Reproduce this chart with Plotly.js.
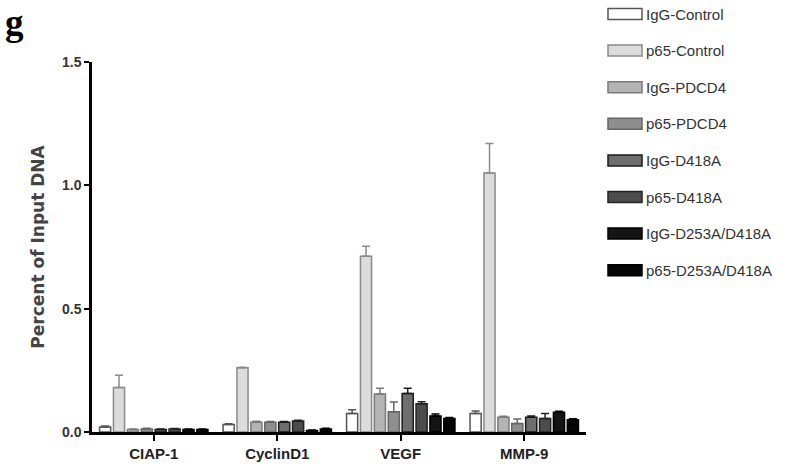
<!DOCTYPE html>
<html>
<head>
<meta charset="utf-8">
<script src="https://cdn.plot.ly/plotly-3.0.1.min.js"></script>
<style>
  body { margin: 0; background: #fff; }
  #plot { width: 786px; height: 473px; }
</style>
</head>
<body>
<div id="plot"></div>
<script>
// genes on the x axis
let genes = ["CIAP-1", "CyclinD1", "VEGF", "MMP-9"];

// one array per group: percent of input DNA for each gene
let iggControl   = [0.02, 0.03, 0.075, 0.075];
let p65Control   = [0.18, 0.26, 0.713, 1.05];
let iggPdcd4     = [0.01, 0.04, 0.154, 0.06];
let p65Pdcd4     = [0.012, 0.04, 0.082, 0.034];
let iggD418a     = [0.01, 0.04, 0.156, 0.06];
let p65D418a     = [0.012, 0.045, 0.115, 0.055];
let iggD253a     = [0.01, 0.006, 0.065, 0.08];
let p65D253a     = [0.01, 0.012, 0.055, 0.05];

// upper error (sem) for each group
let iggControlErr = [0.004, 0.003, 0.015, 0.01];
let p65ControlErr = [0.05, 0.003, 0.04, 0.12];
let iggPdcd4Err   = [0.002, 0.004, 0.023, 0.004];
let p65Pdcd4Err   = [0.003, 0.003, 0.04, 0.019];
let iggD418aErr   = [0.002, 0.003, 0.021, 0.005];
let p65D418aErr   = [0.002, 0.003, 0.008, 0.02];
let iggD253aErr   = [0.002, 0.002, 0.008, 0.004];
let p65D253aErr   = [0.002, 0.003, 0.004, 0.004];

// legend names, fills and outlines
let names = ["IgG-Control", "p65-Control", "IgG-PDCD4", "p65-PDCD4",
             "IgG-D418A", "p65-D418A", "IgG-D253A/D418A", "p65-D253A/D418A"];
let values = [iggControl, p65Control, iggPdcd4, p65Pdcd4, iggD418a, p65D418a, iggD253a, p65D253a];
let errors = [iggControlErr, p65ControlErr, iggPdcd4Err, p65Pdcd4Err,
              iggD418aErr, p65D418aErr, iggD253aErr, p65D253aErr];
let fills = ["#ffffff", "#dcdcdc", "#b4b4b4", "#8e8e8e", "#6e6e6e", "#4c4c4c", "#141414", "#050505"];
let outlines = ["#555555", "#8a8a8a", "#7a7a7a", "#666666", "#1a1a1a", "#222222", "#000000", "#000000"];

// make one trace per group
var data = [];
for (let i = 0; i < names.length; i++) {
    data.push({
        x: genes,
        y: values[i],
        type: "bar",
        name: names[i],
        marker: {color: fills[i], line: {color: outlines[i], width: 1.5}},
        error_y: {type: "data", array: errors[i], symmetric: false,
                  arrayminus: [0, 0, 0, 0], color: outlines[i], thickness: 1.5, width: 4}
    });
}

var font = "'Liberation Sans', Arial, sans-serif";

// plot area in pixels, used to place the hand made legend
var plotLeft = 92, plotRight = 586, plotTop = 62, plotBottom = 432;
function px(x) { return (x - plotLeft) / (plotRight - plotLeft); }
function py(y) { return (plotBottom - y) / (plotBottom - plotTop); }

// legend with wide swatches like the original figure
var shapes = [];
var annotations = [];
for (let i = 0; i < names.length; i++) {
    let cy = 14 + i * 36.6;
    shapes.push({
        type: "rect", xref: "paper", yref: "paper",
        x0: px(608), x1: px(642), y0: py(cy + 5.5), y1: py(cy - 5.5),
        fillcolor: fills[i], line: {color: outlines[i], width: 1.5}
    });
    annotations.push({
        text: names[i], xref: "paper", yref: "paper", x: px(644), y: py(cy),
        xanchor: "left", yanchor: "middle", showarrow: false,
        font: {family: font, size: 15, color: "#333"}
    });
}

// panel letter
annotations.push({
    text: "g", xref: "paper", yref: "paper", x: px(3), y: py(22),
    xanchor: "left", yanchor: "middle", showarrow: false,
    font: {family: "'Liberation Serif', 'Times New Roman', serif", size: 37, color: "#000", weight: "bold"}
});

var layout = {
    width: 786,
    height: 473,
    margin: {l: 92, r: 200, t: 62, b: 41},
    barmode: "group",
    bargap: 0.1,
    bargroupgap: 0.2,
    paper_bgcolor: "#ffffff",
    plot_bgcolor: "#ffffff",
    font: {family: font, color: "#111"},
    showlegend: false,
    xaxis: {
        showline: true, linecolor: "#000", linewidth: 2.5,
        ticks: "outside", ticklen: 6, tickwidth: 2, tickcolor: "#000",
        tickfont: {family: font, size: 15, color: "#222", weight: "bold"},
        showgrid: false, zeroline: false
    },
    yaxis: {
        range: [0, 1.5],
        tickvals: [0, 0.5, 1.0, 1.5],
        ticktext: ["0.0", "0.5", "1.0", "1.5"],
        showline: true, linecolor: "#000", linewidth: 2.5,
        ticks: "outside", ticklen: 5, tickwidth: 2, tickcolor: "#000",
        tickfont: {family: font, size: 14, color: "#333", weight: "bold"},
        showgrid: false, zeroline: false,
        title: {text: "Percent of Input DNA", standoff: 14,
                font: {family: "'DejaVu Sans', Verdana, sans-serif", size: 17, color: "#444", weight: "bold"}}
    },
    shapes: shapes,
    annotations: annotations
};

Plotly.newPlot("plot", data, layout, {displayModeBar: false});
</script>
</body>
</html>
